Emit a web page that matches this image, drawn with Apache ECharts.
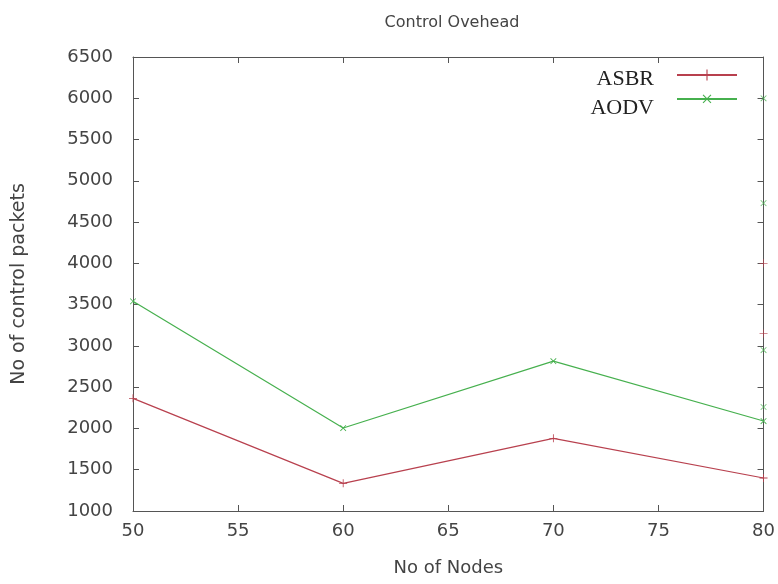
<!DOCTYPE html>
<html>
<head>
<meta charset="utf-8">
<script src="https://cdn.jsdelivr.net/npm/echarts@6/dist/echarts.min.js"></script>
<style>html,body{margin:0;padding:0;background:#fff;}#c{width:778px;height:584px;}</style>
</head>
<body>
<div id="c"></div>
<script>
const nodes = [50, 60, 70, 80];
const asbr = [2365, 1335, 1880, 1400];
const aodv = [3540, 2005, 2815, 2090];
const asbrExtraAt80 = [4000, 3150];
const aodvExtraAt80 = [6000, 4730, 2950, 2260];
const xTicks = [50, 55, 60, 65, 70, 75, 80];
const yTicks = [1000, 1500, 2000, 2500, 3000, 3500, 4000, 4500, 5000, 5500, 6000, 6500];

const RED = '#b8404e';
const GREEN = '#46b04e';
const AXIS = '#555';
const TXT = '#444';
const plus = 'path://M0,4.5h10v1h-10z M4.5,0h1v10h-1z';

const chart = echarts.init(document.getElementById('c'), null, {renderer: 'canvas'});
const tickCommon = {show: true, inside: true, length: 6, lineStyle: {color: AXIS, width: 1}};
function legendText(lh) {
  return {
    padding: [0, 18, 0, 0],
    rich: {a: {fontFamily: 'Liberation Serif', fontSize: 22, color: '#222', lineHeight: lh, verticalAlign: 'bottom'}}
  };
}
const option = {
  backgroundColor: '#fff',
  animation: false,
  title: {
    text: 'Control Ovehead', left: 447, top: 10, textAlign: 'center',
    textStyle: {fontFamily: 'DejaVu Sans', fontSize: 16, fontWeight: 'normal', color: TXT}
  },
  legend: [{
    right: 35, top: 63, orient: 'vertical', align: 'right', itemWidth: 60, itemHeight: 14,
    formatter: '{a|{name}}', textStyle: legendText(30),
    data: ['ASBR']
  }, {
    right: 35, top: 86, orient: 'vertical', align: 'right', itemWidth: 60, itemHeight: 14,
    formatter: '{a|{name}}', textStyle: legendText(40),
    data: ['AODV']
  }],
  grid: {left: 133, right: 14, top: 57, bottom: 73, containLabel: false},
  xAxis: [{
    type: 'value', min: 50, max: 80, interval: 5,
    name: 'No of Nodes', nameLocation: 'middle', nameGap: 48,
    nameTextStyle: {fontFamily: 'DejaVu Sans', fontSize: 18, color: TXT},
    axisLine: {show: true, lineStyle: {color: AXIS, width: 1}},
    axisTick: tickCommon,
    axisLabel: {fontFamily: 'DejaVu Sans', fontSize: 18, color: TXT, margin: 11},
    splitLine: {show: false}
  }, {
    type: 'value', min: 50, max: 80, interval: 5, position: 'top',
    axisLine: {show: true, lineStyle: {color: AXIS, width: 1}},
    axisTick: tickCommon, axisLabel: {show: false}, splitLine: {show: false}
  }],
  yAxis: [{
    type: 'value', min: 1000, max: 6500, interval: 500,
    name: 'No of control packets', nameLocation: 'middle', nameGap: 104,
    nameTextStyle: {fontFamily: 'DejaVu Sans', fontSize: 19, color: TXT},
    axisLine: {show: true, lineStyle: {color: AXIS, width: 1}},
    axisTick: tickCommon,
    axisLabel: {fontFamily: 'DejaVu Sans', fontSize: 18, color: TXT, margin: 20, formatter: v => String(v)},
    splitLine: {show: false}
  }, {
    type: 'value', min: 1000, max: 6500, interval: 500, position: 'right',
    axisLine: {show: true, lineStyle: {color: AXIS, width: 1}},
    axisTick: tickCommon, axisLabel: {show: false}, splitLine: {show: false}
  }],
  series: [{
    name: 'ASBR', type: 'line', data: nodes.map((n, i) => [n, asbr[i]]),
    symbol: plus, symbolSize: 8, showSymbol: true,
    lineStyle: {color: RED, width: 1.2}, itemStyle: {color: RED}, clip: false
  }, {
    name: 'AODV', type: 'line', data: nodes.map((n, i) => [n, aodv[i]]),
    symbol: plus, symbolSize: 8, symbolRotate: 45, showSymbol: true,
    lineStyle: {color: GREEN, width: 1.2}, itemStyle: {color: GREEN}, clip: false
  }, {
    name: 'ASBR extra', type: 'scatter', data: asbrExtraAt80.map(v => [80, v]),
    symbol: plus, symbolSize: 8, itemStyle: {color: RED}, clip: false
  }, {
    name: 'AODV extra', type: 'scatter', data: aodvExtraAt80.map(v => [80, v]),
    symbol: plus, symbolSize: 8, symbolRotate: 45, itemStyle: {color: GREEN}, clip: false
  }]
};
chart.setOption(option);
</script>
</body>
</html>
